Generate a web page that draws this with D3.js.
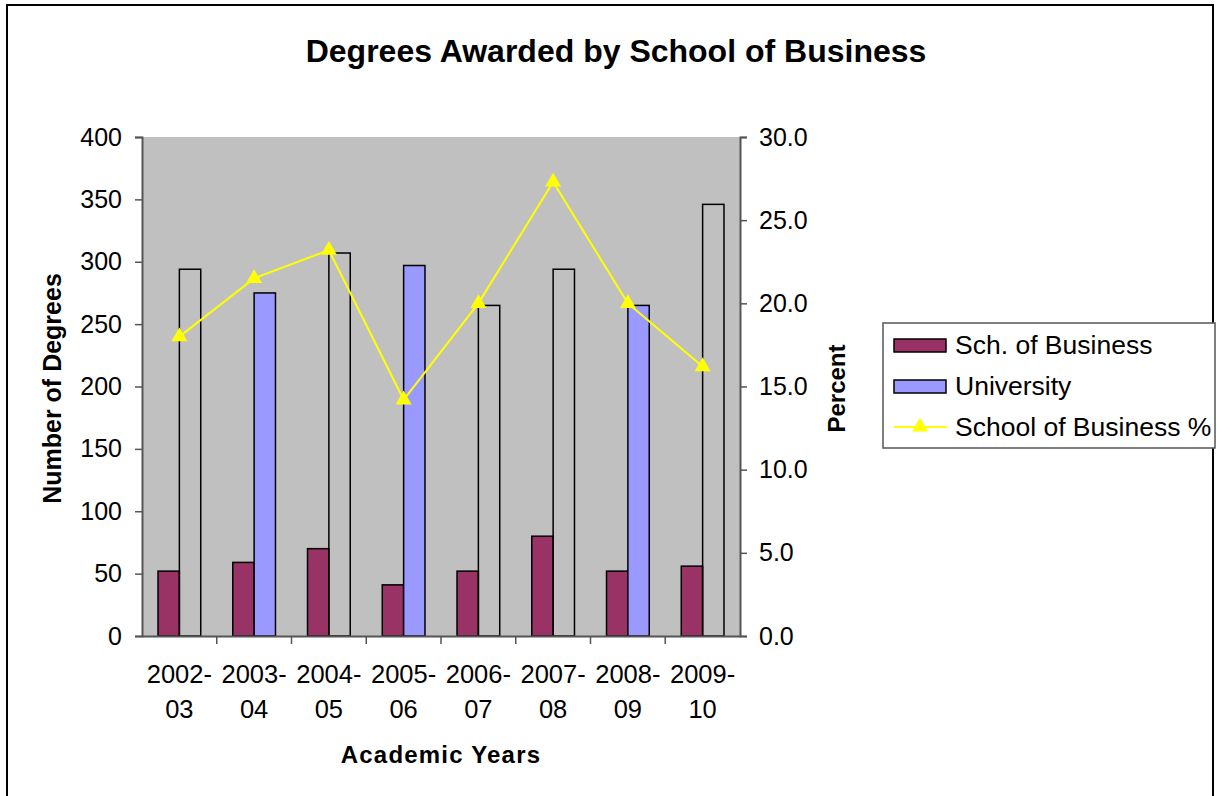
<!DOCTYPE html>
<html>
<head>
<meta charset="utf-8">
<script src="https://cdn.jsdelivr.net/npm/d3@7"></script>
<style>
  body { margin: 0; background: #fff; }
  text { font-family: "Liberation Sans", Arial, sans-serif; }
</style>
</head>
<body>
<div id="chart"></div>
<script>
// Chart data.
const years = ['2002-03', '2003-04', '2004-05', '2005-06', '2006-07', '2007-08', '2008-09', '2009-10'];
const schoolOfBusiness = [52, 59, 70, 41, 52, 80, 52, 56];
const university = [294, 275, 307, 297, 265, 294, 265, 346];
const businessPercent = [18.0, 21.5, 23.2, 14.2, 20.0, 27.3, 20.0, 16.2];
const leftTicks = [0, 50, 100, 150, 200, 250, 300, 350, 400];
const rightTicks = [0, 5, 10, 15, 20, 25, 30];
// In the original only some University bars are filled, the rest are hollow.
const universityFilled = [false, true, false, true, false, false, true, false];

const width = 1217, height = 796;
const plot = { left: 142, top: 137, right: 740, bottom: 636 };

const svg = d3.select('#chart').append('svg')
    .attr('width', width)
    .attr('height', height);

// Outer frame
svg.append('rect')
    .attr('x', 7).attr('y', 5)
    .attr('width', 1206).attr('height', 800)
    .attr('fill', '#fff').attr('stroke', '#000').attr('stroke-width', 2);

// Scales
const x = d3.scaleBand().domain(years).range([plot.left, plot.right]);
const yLeft = d3.scaleLinear().domain([0, 400]).range([plot.bottom, plot.top]);
const yRight = d3.scaleLinear().domain([0, 30]).range([plot.bottom, plot.top]);

// Excel style: two bars, gap width 150%
const barW = x.bandwidth() / 3.5;

// Plot background
svg.append('rect')
    .attr('x', plot.left).attr('y', plot.top)
    .attr('width', plot.right - plot.left).attr('height', plot.bottom - plot.top)
    .attr('fill', '#c0c0c0');

// Bars
const groups = svg.selectAll('.year')
    .data(years)
    .enter().append('g')
    .attr('class', 'year');

groups.append('rect')
    .attr('x', d => x(d) + x.bandwidth() / 2 - barW)
    .attr('y', (d, i) => yLeft(schoolOfBusiness[i]))
    .attr('width', barW)
    .attr('height', (d, i) => yLeft(0) - yLeft(schoolOfBusiness[i]))
    .attr('fill', '#993366')
    .attr('stroke', '#000').attr('stroke-width', 1.5);

groups.append('rect')
    .attr('x', d => x(d) + x.bandwidth() / 2)
    .attr('y', (d, i) => yLeft(university[i]))
    .attr('width', barW)
    .attr('height', (d, i) => yLeft(0) - yLeft(university[i]))
    .attr('fill', (d, i) => universityFilled[i] ? '#9999ff' : 'none')
    .attr('stroke', '#000').attr('stroke-width', 1.5);

// Axes
const axisColor = '#555';

const leftAxis = svg.append('g')
    .attr('transform', `translate(${plot.left},0)`)
    .call(d3.axisLeft(yLeft).tickValues(leftTicks).tickSize(7).tickPadding(13));

const rightAxis = svg.append('g')
    .attr('transform', `translate(${plot.right},0)`)
    .call(d3.axisRight(yRight).tickValues(rightTicks).tickSize(7).tickPadding(12)
        .tickFormat(d3.format('.1f')));

const bottomAxis = svg.append('g')
    .attr('transform', `translate(0,${plot.bottom})`)
    .call(d3.axisBottom(x).tickSize(0).tickFormat(''));

[leftAxis, rightAxis, bottomAxis].forEach(a => {
    a.select('.domain').attr('stroke', axisColor).attr('stroke-width', 2);
    a.selectAll('.tick line').attr('stroke', axisColor).attr('stroke-width', 1.5);
    a.selectAll('.tick text')
        .attr('fill', '#000')
        .style('font-size', '25px')
        .style('font-family', '"Liberation Sans", Arial, sans-serif');
});

// Category boundary ticks on the x axis
svg.append('g')
    .selectAll('line')
    .data(years.slice(1))
    .enter().append('line')
    .attr('x1', d => x(d)).attr('x2', d => x(d))
    .attr('y1', plot.bottom).attr('y2', plot.bottom + 8)
    .attr('stroke', axisColor).attr('stroke-width', 1.5);

// Category labels, split over two lines
const catLabels = svg.append('g')
    .selectAll('text')
    .data(years)
    .enter().append('text')
    .attr('x', d => x(d) + x.bandwidth() / 2)
    .attr('y', 683)
    .attr('text-anchor', 'middle')
    .style('font-size', '25.5px');

catLabels.append('tspan')
    .attr('x', d => x(d) + x.bandwidth() / 2)
    .text(d => d.split('-')[0] + '-');
catLabels.append('tspan')
    .attr('x', d => x(d) + x.bandwidth() / 2)
    .attr('dy', 35)
    .text(d => d.split('-')[1]);

// Percent line with triangle markers
const line = d3.line()
    .x((d, i) => x(years[i]) + x.bandwidth() / 2)
    .y(d => yRight(d));

svg.append('path')
    .datum(businessPercent)
    .attr('d', line)
    .attr('fill', 'none')
    .attr('stroke', '#ffff00')
    .attr('stroke-width', 2);

const triangle = d3.symbol().type(d3.symbolTriangle).size(110);
svg.append('g')
    .selectAll('path')
    .data(businessPercent)
    .enter().append('path')
    .attr('d', triangle)
    .attr('transform', (d, i) => `translate(${x(years[i]) + x.bandwidth() / 2},${yRight(d)})`)
    .attr('fill', '#ffff00');

// Titles
svg.append('text')
    .attr('x', 616).attr('y', 62)
    .attr('text-anchor', 'middle')
    .style('font-size', '32px').style('font-weight', 'bold')
    .text('Degrees Awarded by School of Business');

svg.append('text')
    .attr('transform', `translate(61,${(plot.top + plot.bottom) / 2 + 2}) rotate(-90)`)
    .attr('text-anchor', 'middle')
    .style('font-size', '25px').style('font-weight', 'bold')
    .text('Number of Degrees');

svg.append('text')
    .attr('transform', `translate(845,${(plot.top + plot.bottom) / 2 + 2}) rotate(-90)`)
    .attr('text-anchor', 'middle')
    .style('font-size', '24px').style('font-weight', 'bold')
    .text('Percent');

svg.append('text')
    .attr('x', 441).attr('y', 763)
    .attr('text-anchor', 'middle')
    .style('font-size', '24px').style('font-weight', 'bold')
    .style('letter-spacing', '1.2px')
    .text('Academic Years');

// Legend
const legendItems = ['Sch. of Business', 'University', 'School of Business %'];
const legend = svg.append('g');
legend.append('rect')
    .attr('x', 883).attr('y', 323)
    .attr('width', 332).attr('height', 125)
    .attr('fill', '#fff').attr('stroke', '#555').attr('stroke-width', 1.5);

const rows = legend.selectAll('.row')
    .data(legendItems)
    .enter().append('g')
    .attr('transform', (d, i) => `translate(0,${345 + i * 41})`);

rows.filter((d, i) => i < 2).append('rect')
    .attr('x', 894).attr('y', -6)
    .attr('width', 52).attr('height', 13)
    .attr('fill', (d, i) => i === 0 ? '#993366' : '#9999ff')
    .attr('stroke', '#000').attr('stroke-width', 1.5);

rows.filter((d, i) => i === 2).append('line')
    .attr('x1', 894).attr('x2', 947)
    .attr('stroke', '#ffff00').attr('stroke-width', 2);
rows.filter((d, i) => i === 2).append('path')
    .attr('d', triangle)
    .attr('transform', 'translate(920,0)')
    .attr('fill', '#ffff00');

rows.append('text')
    .attr('x', 955).attr('dy', '0.35em')
    .style('font-size', '26.5px')
    .text(d => d);
</script>
</body>
</html>
